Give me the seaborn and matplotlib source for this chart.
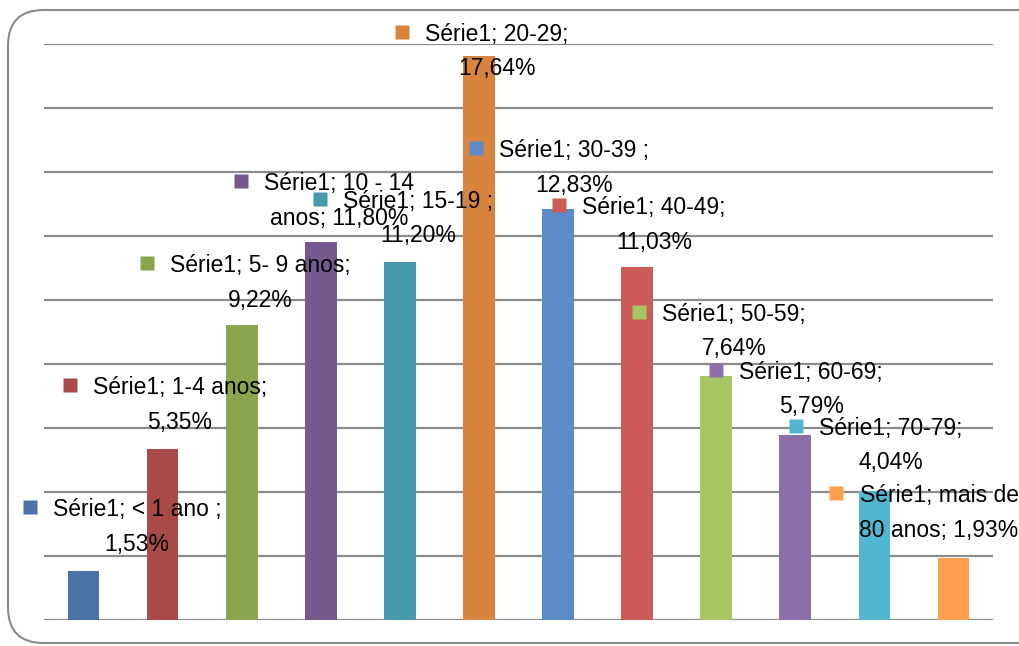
import matplotlib
matplotlib.use("Agg")
import matplotlib.pyplot as plt
import matplotlib.transforms as mtransforms
from matplotlib.patches import FancyBboxPatch
import seaborn as sns
import pandas as pd

categories = ["< 1 ano ", "1-4 anos", "5- 9 anos", "10 - 14 anos", "15-19 ", "20-29",
              "30-39 ", "40-49", "50-59", "60-69", "70-79", "mais de 80 anos"]
values = [1.53, 5.35, 9.22, 11.80, 11.20, 17.64, 12.83, 11.03, 7.64, 5.79, 4.04, 1.93]
label_texts = ["Série1; < 1 ano ;\n1,53%", "Série1; 1-4 anos;\n5,35%",
               "Série1; 5- 9 anos;\n9,22%", "Série1; 10 - 14\nanos; 11,80%",
               "Série1; 15-19 ;\n11,20%", "Série1; 20-29;\n17,64%",
               "Série1; 30-39 ;\n12,83%", "Série1; 40-49;\n11,03%",
               "Série1; 50-59;\n7,64%", "Série1; 60-69;\n5,79%",
               "Série1; 70-79;\n4,04%", "Série1; mais de\n80 anos; 1,93%"]
colors = ["#4A72A6", "#A84B48", "#8BA54F", "#75598F", "#4898AE", "#D8843E",
          "#5B8BC9", "#CB5B56", "#A8C665", "#8C6EAB", "#52B6D0", "#FE9F50"]

# label square offsets from bar top centre, in pixels (x right, y down)
label_offsets = [(-54, -64), (-93, -64), (-95, -62), (-80, -61), (-80, -63), (-77, -24),
                 (-82, -61), (-78, -62), (-77, -64), (-79, -65), (-78, -65), (-117, -65)]

df = pd.DataFrame({"cat": categories, "val": values})

sns.set_theme(style="white")
plt.rcParams['font.family'] = ['Liberation Sans', 'DejaVu Sans']

fig = plt.figure(figsize=(10.19, 6.46), dpi=100)
ax = fig.add_axes([44 / 1019, 26 / 646, 949 / 1019, 576 / 646])

frame = FancyBboxPatch((8 / 1019, 3 / 646), 1.2, 633 / 646,
                       boxstyle="round,pad=0,rounding_size=0.035",
                       transform=fig.transFigure, fill=False,
                       edgecolor="#8a8a8a", lw=1.5, zorder=0,
                       mutation_aspect=1019 / 646)
fig.patches.append(frame)

sns.barplot(data=df, x="cat", y="val", hue="cat", palette=colors, legend=False,
            width=0.4, saturation=1, ax=ax, zorder=3, edgecolor="none")

ax.set_ylim(0, 18)
ax.set_xlim(-0.5, len(categories) - 0.5)
ax.set_yticks(range(0, 19, 2))
ax.yaxis.grid(True, color="#8c8c8c", lw=1.6, zorder=0)
ax.set_axisbelow(True)
ax.set_xticks([])
ax.set_yticklabels([])
ax.tick_params(left=False, bottom=False)
ax.set_xlabel("")
ax.set_ylabel("")
for s in ax.spines.values():
    s.set_visible(False)

for i, (txt, v, c, (dx, dy)) in enumerate(zip(label_texts, values, colors, label_offsets)):
    sq_tr = mtransforms.offset_copy(ax.transData, fig=fig, x=dx * 0.72, y=-dy * 0.72, units='points')
    ax.plot(i, v, marker="s", ms=10.5, color=c, mec="none", transform=sq_tr, zorder=5, clip_on=False)
    tx_tr = mtransforms.offset_copy(ax.transData, fig=fig, x=(dx + 23) * 0.72, y=(-dy + 9) * 0.72,
                                    units='points')
    ax.text(i, v, txt, transform=tx_tr, ha="left", va="top", multialignment="center",
            fontsize=16.5, color="black", linespacing=1.65, zorder=6, clip_on=False)

fig.savefig("out.png", dpi=100)
